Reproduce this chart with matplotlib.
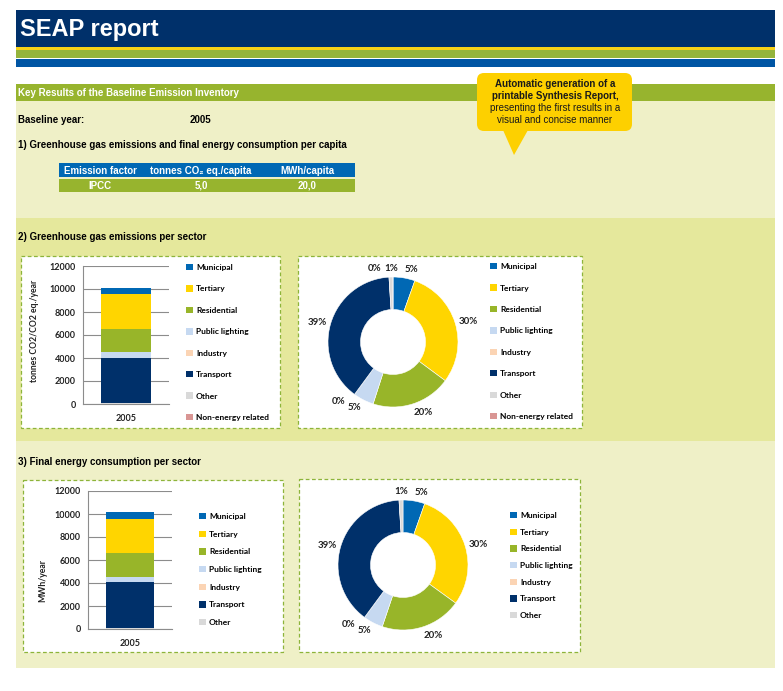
import matplotlib
matplotlib.use("Agg")
import matplotlib.pyplot as plt
from matplotlib.patches import Rectangle, FancyBboxPatch, Polygon, Patch

# figure size in pixels (dpi 100)
W, H = 783, 691

# data
sectors = ["Municipal", "Tertiary", "Residential", "Public lighting",
           "Industry", "Transport", "Other", "Non-energy related"]
colors = ["#0068b4", "#ffd500", "#98b529", "#c6d9f1",
          "#fbd4b4", "#00306a", "#d9d9d9", "#d99694"]
emissions = [550, 3000, 2000, 520, 0, 3930, 100, 0]      # tonnes CO2/CO2 eq./year
energy = [550, 3000, 2050, 500, 0, 3950, 100]            # MWh/year
year = "2005"
yticks = [0, 2000, 4000, 6000, 8000, 10000, 12000]

table_cols = ["Emission factor", "tonnes CO₂ eq./capita", "MWh/capita"]
table_row = ["IPCC", "5,0", "20,0"]

HEAD = ["Liberation Sans", "DejaVu Sans"]
CHART = ["Lato", "DejaVu Sans"]

fig = plt.figure(figsize=(W / 100, H / 100), dpi=100)
fig.patch.set_facecolor("white")

bg = fig.add_axes([0, 0, 1, 1])
bg.set_xlim(0, W)
bg.set_ylim(H, 0)
bg.axis("off")


def rect(x0, y0, x1, y1, **kw):
    bg.add_patch(Rectangle((x0, y0), x1 - x0, y1 - y0, **kw))


def px_axes(x0, y0, x1, y1):
    return fig.add_axes([x0 / W, 1 - y1 / H, (x1 - x0) / W, (y1 - y0) / H])


# header bands
rect(16, 10, 775, 47, color="#00306a", lw=0)
rect(16, 47, 775, 49.5, color="#f7d117", lw=0)
rect(16, 49.5, 775, 57.5, color="#94b43c", lw=0)
rect(16, 58.5, 775, 66.5, color="#0055a4", lw=0)
bg.text(20, 29, "SEAP report", color="white", fontsize=17, fontweight="bold",
        family=HEAD, va="center")

# section backgrounds
rect(16, 84, 775, 101, color="#97b42e", lw=0)
rect(16, 101, 775, 218, color="#eff0c7", lw=0)
rect(16, 218, 775, 441, color="#e5e89c", lw=0)
rect(16, 441, 775, 668, color="#eff0c7", lw=0)

bg.text(18, 92.5, "Key Results of the Baseline Emission Inventory", color="white",
        fontsize=7, fontweight="bold", family=HEAD, va="center")
bg.text(18, 120, "Baseline year:", fontsize=7, fontweight="bold", family=HEAD, va="center")
bg.text(190, 120, year, fontsize=7, fontweight="bold", family=HEAD, va="center")
bg.text(18, 145, "1) Greenhouse gas emissions and final energy consumption per capita",
        fontsize=7, fontweight="bold", family=HEAD, va="center")
bg.text(18, 237, "2) Greenhouse gas emissions per sector",
        fontsize=7, fontweight="bold", family=HEAD, va="center")
bg.text(18, 462, "3) Final energy consumption per sector",
        fontsize=7, fontweight="bold", family=HEAD, va="center")

# per capita table
rect(59, 163, 355, 177, color="#0068b4", lw=0)
rect(59, 178.5, 355, 192, color="#97b42e", lw=0)
col_x = [100, 201, 307]
for cx, head, val in zip(col_x, table_cols, table_row):
    bg.text(cx, 170.5, head, color="white", fontsize=7, fontweight="bold",
            family=HEAD, ha="center", va="center")
    bg.text(cx, 185.5, val, color="white", fontsize=7, fontweight="bold",
            family=HEAD, ha="center", va="center")

# callout bubble
bg.add_patch(FancyBboxPatch((477, 73), 155, 58, boxstyle="round,pad=0,rounding_size=7",
                            fc="#fdd000", ec="none"))
bg.add_patch(Polygon([(503, 130), (528, 130), (514, 155)], closed=True, fc="#fdd000", ec="none"))
callout = [("Automatic generation of a", "bold"), ("printable Synthesis Report,", "bold"),
           ("presenting the first results in a", "normal"), ("visual and concise manner", "normal")]
for i, (line, wt) in enumerate(callout):
    bg.text(555, 83.5 + i * 12, line, fontsize=7, fontweight=wt, family=HEAD,
            ha="center", va="center", color="#1a1a1a")

# dashed chart frames
for x0, y0, x1, y1 in [(21, 256, 280, 428), (298, 256, 582, 428),
                       (23, 480, 283, 652), (299, 479, 580, 652)]:
    rect(x0, y0, x1, y1, fc="white", ec="#8db43a", lw=0.9, ls=(0, (3, 2)))


def stacked_bar(box, values, ylabel, width, label_xy):
    ax = px_axes(*box)
    ax.set_facecolor("none")
    bottom = 0
    for name, col, v in reversed(list(zip(sectors, colors, values))):
        ax.bar([0], [v], width=width, bottom=bottom, color=col, zorder=3)
        bottom += v
    ax.set_xlim(-0.5, 0.5)
    ax.set_ylim(0, 12000)
    ax.set_yticks(yticks)
    ax.set_xticks([0])
    ax.set_xticklabels([year])
    ax.yaxis.grid(True, color="#8c8c8c", lw=0.8, zorder=0)
    for s in ["top", "right"]:
        ax.spines[s].set_visible(False)
    for s in ["left", "bottom"]:
        ax.spines[s].set_color("#8c8c8c")
        ax.spines[s].set_linewidth(0.8)
    ax.tick_params(length=0, labelsize=6.5, labelcolor="#222222")
    ax.tick_params(axis="y", pad=5)
    ax.tick_params(axis="x", pad=7)
    for t in ax.get_xticklabels() + ax.get_yticklabels():
        t.set_family(CHART)
        t.set_fontweight("bold")
    ax.set_ylabel(ylabel, fontsize=6.2, fontweight="bold", family=CHART, color="#222222")
    ax.yaxis.set_label_coords(*label_xy)
    return ax


def donut(center, r, values):
    cx, cy = center
    ax = px_axes(cx - r, cy - r, cx + r, cy + r)
    total = sum(values)
    labels = [f"{v / total * 100:.0f}%" for v in values]
    wedges, texts = ax.pie(values, colors=colors[:len(values)], startangle=90,
                           counterclock=False, radius=1, labels=labels, labeldistance=1.06,
                           wedgeprops=dict(width=0.5, edgecolor="white", linewidth=0.4),
                           textprops=dict(fontsize=7, family=CHART, fontweight="bold",
                                          color="#222222"))
    ax.set_xlim(-1, 1)
    ax.set_ylim(-1, 1)
    # align the labels like outside-end labels, push colliding zero labels aside
    prev_x = None
    for v, t in zip(values, texts):
        x, y = t.get_position()
        t.set_ha("center" if abs(x) < 0.1 else ("left" if x > 0 else "right"))
        t.set_va("center" if abs(y) < 0.5 else ("bottom" if y > 0 else "top"))
        if v == 0 and prev_x is not None and abs(prev_x - x) < 0.15:
            x = prev_x - 0.25
            t.set_position((x, y))
        prev_x = x
    return ax


def legend(x, y, n, spacing):
    handles = [Patch(facecolor=c, edgecolor="none") for c in colors[:n]]
    fig.legend(handles, sectors[:n], loc="upper left", bbox_to_anchor=(x / W, 1 - y / H),
               frameon=False, prop={"family": CHART, "size": 6, "weight": "bold"},
               handlelength=0.8, handleheight=0.8, handletextpad=0.4,
               labelspacing=spacing, borderpad=0, borderaxespad=0)


# section 2 charts
stacked_bar((83, 266, 169, 404), emissions, "tonnes CO2/CO2 eq./year", 0.57, (-0.51, 0.53))
legend(186, 264, 8, 1.72)
donut((393, 342), 65, emissions)
legend(490, 263, 8, 1.72)

# section 3 charts
stacked_bar((88, 491, 172, 629), energy, "MWh/year", 0.58, (-0.49, 0.355))
legend(199, 513, 7, 1.27)
donut((403, 565), 65, energy)
legend(510, 512, 7, 1.15)

fig.savefig("out.png", dpi=100, facecolor="white")
